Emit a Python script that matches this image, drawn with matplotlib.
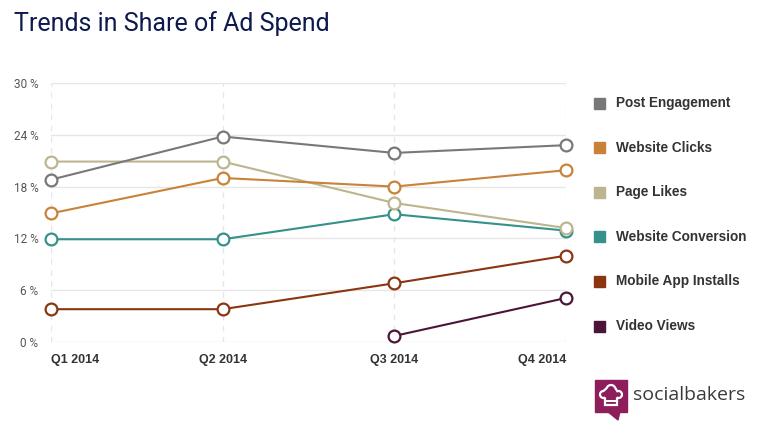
import matplotlib.pyplot as plt
import matplotlib.patches as mpatches
import numpy as np

quarters = ["Q1 2014", "Q2 2014", "Q3 2014", "Q4 2014"]
post_engagement = [18.8, 23.8, 21.9, 22.8]
website_clicks = [14.9, 19.0, 18.0, 19.9]
page_likes = [20.9, 20.9, 16.1, 13.2]
website_conversion = [11.9, 11.9, 14.8, 12.9]
mobile_app_installs = [3.8, 3.8, 6.8, 10.0]
video_views = [np.nan, np.nan, 0.7, 5.1]

series = [
    ("Post Engagement", post_engagement, "#787878"),
    ("Website Clicks", website_clicks, "#c8823a"),
    ("Page Likes", page_likes, "#bdb58e"),
    ("Website Conversion", website_conversion, "#35918a"),
    ("Mobile App Installs", mobile_app_installs, "#8a3612"),
    ("Video Views", video_views, "#4a1538"),
]

W, H = 771, 432


def fx(px):
    return px / W


def fy(py):
    return 1 - py / H


fig = plt.figure(figsize=(7.71, 4.32), dpi=100)
ax = fig.add_axes([fx(51), 90 / H, 515 / W, 259 / H])

x = np.arange(len(quarters))
for i, (name, vals, col) in enumerate(series):
    ax.plot(x, vals, color=col, lw=1.5, marker="o", ms=8.5, mfc="white",
            mec=col, mew=1.6, clip_on=False, zorder=10 - i)

ax.set_xlim(0, 3)
ax.set_ylim(0, 30)
ax.set_yticks(np.arange(0, 31, 6))
ax.set_yticklabels([f"{v} %" for v in range(0, 31, 6)], fontsize=8.5,
                   color="#555555", family="Roboto")
ax.set_xticks(x)
labels = ax.set_xticklabels(quarters, fontsize=9, fontweight="bold", color="#333333",
                            family="Liberation Sans")
labels[0].set_ha("left")
labels[-1].set_ha("right")
ax.tick_params(length=0)
ax.tick_params(axis="y", pad=9)
ax.tick_params(axis="x", pad=9)
ax.grid(axis="y", color="#e6e6e6", lw=1, zorder=0)
for xi in x:
    ax.axvline(xi, color="#e6e6e6", lw=1, ls=(0, (4, 4)), zorder=0)
for s in ax.spines.values():
    s.set_visible(False)

fig.text(fx(14), fy(24), "Trends in Share of Ad Spend", fontsize=18,
         color="#0c1a4e", family="Roboto", va="center", ha="left")

# legend
for i, (name, vals, col) in enumerate(series):
    yy = fy(103 + i * 44.6)
    fig.patches.append(mpatches.Rectangle((fx(594), yy - 5.5 / H), 11 / W, 11 / H,
                                          transform=fig.transFigure, color=col))
    fig.text(fx(616), yy, name, fontsize=9.8, fontweight="bold", color="#333333",
             family="Liberation Sans", va="center", ha="left")

# socialbakers logo
logo_col = "#8e1d5b"
fig.patches.append(mpatches.Rectangle((fx(595), fy(412)), 32 / W, 32 / H,
                                      transform=fig.transFigure, color=logo_col))
fig.patches.append(mpatches.Polygon([(fx(607), fy(411)), (fx(620), fy(411)), (fx(618), fy(420))],
                                    transform=fig.transFigure, color=logo_col))


def arc(cx, cy, r, a0, a1):
    t = np.radians(np.linspace(a0, a1, 20))
    return list(zip(cx + r * np.cos(t), cy - r * np.sin(t)))


hat = [(605, 405), (605, 398)]
hat += arc(603.5, 394.5, 3.5, -60, -270)
hat += arc(611, 389.5, 4.5, 160, 20)
hat += arc(618.5, 394.5, 3.5, 110, -120)
hat += [(617, 398), (617, 405)]
fig.patches.append(mpatches.Polygon([(fx(a), fy(b)) for a, b in hat], closed=True,
                                    transform=fig.transFigure, fc="none", ec="white", lw=1.6))
fig.lines.append(plt.Line2D([fx(605), fx(617)], [fy(401), fy(401)],
                            transform=fig.transFigure, color="white", lw=1.4))
fig.text(fx(633), fy(395), "socialbakers", fontsize=14, color="#3a3a3a",
         family="Open Sans", va="center", ha="left")

fig.savefig("out.png", dpi=100, facecolor="white")
